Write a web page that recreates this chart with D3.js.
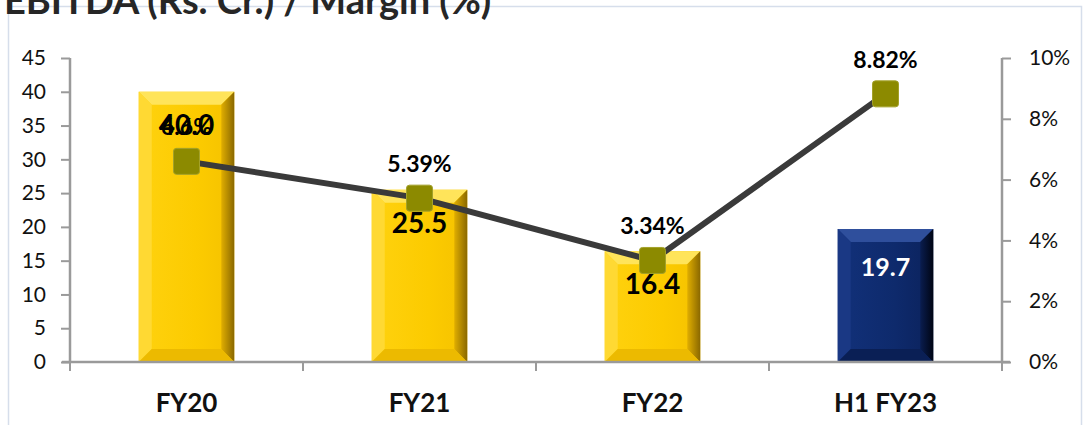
<!DOCTYPE html>
<html>
<head>
<meta charset="utf-8">
<script src="https://cdn.jsdelivr.net/npm/d3@7"></script>
<style>
  body { margin: 0; background: #fff; }
  svg { display: block; font-family: Lato, "Open Sans", sans-serif; }
</style>
</head>
<body>
<svg id="chart" width="1085" height="425"></svg>
<script>
// data
const categories = ["FY20", "FY21", "FY22", "H1 FY23"];
const ebitda = [40.0, 25.5, 16.4, 19.7];
const ebitdaLabels = ["40.0", "25.5", "16.4", "19.7"];
const margin = [6.6, 5.39, 3.34, 8.82];
const marginLabels = ["6.6%", "5.39%", "3.34%", "8.82%"];
const leftTicks = [0, 5, 10, 15, 20, 25, 30, 35, 40, 45];
const rightTicks = [0, 2, 4, 6, 8, 10];

const svg = d3.select("#chart");
const plotL = 70, plotR = 1002, plotT = 58, plotB = 362;

// outer frame
svg.append("rect").attr("x", 8.5).attr("y", 6.5).attr("width", 1073).attr("height", 430)
  .attr("fill", "none").attr("stroke", "#d6deeb").attr("stroke-width", 1.5);

// title (cut at the top like the original)
svg.append("text").attr("x", 4).attr("y", 14)
  .attr("font-size", 38).attr("font-weight", 700).attr("fill", "#262626")
  .text("EBITDA (Rs. Cr.) / Margin (%)");

const x = d3.scaleBand().domain(categories).range([plotL, plotR])
  .paddingInner(0.59).paddingOuter(0.295);
const y = d3.scaleLinear().domain([0, 45]).range([plotB, plotT]);
const y2 = d3.scaleLinear().domain([0, 10]).range([plotB, plotT]);
const cx = (c) => x(c) + x.bandwidth() / 2;

// gradients
const defs = svg.append("defs");
function grad(id, stops) {
  const g = defs.append("linearGradient").attr("id", id)
    .attr("x1", 0).attr("y1", 0).attr("x2", 1).attr("y2", 0);
  stops.forEach(s => g.append("stop").attr("offset", s[0]).attr("stop-color", s[1]));
}
grad("goldFace", [[0, "#ffd20f"], [0.6, "#fccb00"], [1, "#f5c200"]]);
grad("goldRight", [[0, "#e0ae00"], [1, "#8a6800"]]);
grad("navyFace", [[0, "#12317a"], [0.6, "#0e2a6c"], [1, "#0b225c"]]);
grad("navyRight", [[0, "#0a1d4f"], [1, "#000514"]]);

const palette = {
  gold: { face: "url(#goldFace)", top: "#ffe45a", left: "#ffd933", right: "url(#goldRight)", bottom: "#ecba00" },
  navy: { face: "url(#navyFace)", top: "#2f4f9c", left: "#1a3884", right: "url(#navyRight)", bottom: "#0a1f55" }
};

// bars with a bevel look
const bev = 13;
const bars = svg.append("g").selectAll("g").data(categories).join("g");
bars.each(function (c, i) {
  const g = d3.select(this);
  const p = i === 3 ? palette.navy : palette.gold;
  const x0 = x(c), x1 = x(c) + x.bandwidth(), y0 = y(ebitda[i]), y1 = y(0);
  const poly = (pts, fill) => g.append("polygon").attr("points", pts.map(d => d.join(",")).join(" ")).attr("fill", fill);
  poly([[x0, y0], [x1, y0], [x1, y1], [x0, y1]], p.face);
  poly([[x0, y0], [x1, y0], [x1 - bev, y0 + bev], [x0 + bev, y0 + bev]], p.top);
  poly([[x0, y0], [x0 + bev, y0 + bev], [x0 + bev, y1 - bev], [x0, y1]], p.left);
  poly([[x1, y0], [x1, y1], [x1 - bev, y1 - bev], [x1 - bev, y0 + bev]], p.right);
  poly([[x0, y1], [x0 + bev, y1 - bev], [x1 - bev, y1 - bev], [x1, y1]], p.bottom);
});

// axes
const axisColor = "#9a9a9a";
const gl = svg.append("g").attr("transform", `translate(${plotL},0)`)
  .call(d3.axisLeft(y).tickValues(leftTicks).tickSize(9).tickPadding(15));
const gr = svg.append("g").attr("transform", `translate(${plotR},0)`)
  .call(d3.axisRight(y2).tickValues(rightTicks).tickSize(9).tickPadding(18).tickFormat(d => d + "%"));
const gx = svg.append("g").attr("transform", `translate(0,${plotB})`)
  .call(d3.axisBottom(x).tickSize(0).tickPadding(32));
[gl, gr, gx].forEach(g => {
  g.select(".domain").attr("stroke", axisColor).attr("stroke-width", 2.5);
  g.selectAll(".tick line").attr("stroke", axisColor).attr("stroke-width", 2);
  g.selectAll("text").attr("fill", "#111").attr("font-family", "Lato, sans-serif");
});
gl.select(".domain").attr("d", `M0,${plotT}V${plotB}`);
gr.select(".domain").attr("d", `M0,${plotT}V${plotB}`);
gl.selectAll("text").attr("font-size", 21);
gr.selectAll("text").attr("font-size", 21);
gx.selectAll("text").attr("font-size", 26).attr("font-weight", 700).attr("dy", "0.71em");
gx.select(".domain").attr("d", `M${plotL - 8},0H${plotR + 8}`);
// category separator ticks
const sep = [plotL].concat(categories.map(c => x(c) + x.bandwidth() + x.step() * 0.295));
gx.selectAll(".sep").data(sep).join("line").attr("class", "sep")
  .attr("x1", d => d).attr("x2", d => d).attr("y1", 0).attr("y2", 9)
  .attr("stroke", axisColor).attr("stroke-width", 2);

// bar value labels
svg.append("g").selectAll("text").data(categories).join("text")
  .attr("x", cx).attr("y", (c, i) => y(ebitda[i]) + (i === 3 ? 47 : 43))
  .attr("text-anchor", "middle").attr("font-weight", 700)
  .attr("font-size", (c, i) => i === 3 ? 25 : 28)
  .attr("fill", (c, i) => i === 3 ? "#fff" : "#000")
  .text((c, i) => ebitdaLabels[i]);

// margin line
const line = d3.line().x(d => cx(d)).y((d, i) => y2(margin[i]));
svg.append("path").datum(categories).attr("d", line)
  .attr("fill", "none").attr("stroke", "#3a3a3a").attr("stroke-width", 6);
svg.append("g").selectAll("rect").data(categories).join("rect")
  .attr("x", c => cx(c) - 13).attr("y", (c, i) => y2(margin[i]) - 13)
  .attr("width", 26).attr("height", 26).attr("rx", 3)
  .attr("fill", "#8c8a00").attr("stroke", "#a3a12a").attr("stroke-width", 1);
svg.append("g").selectAll("text").data(categories).join("text")
  .attr("x", cx).attr("y", (c, i) => y2(margin[i]) - 26)
  .attr("text-anchor", "middle").attr("font-weight", 700).attr("font-size", 23)
  .attr("fill", "#000")
  .text((c, i) => marginLabels[i]);
</script>
</body>
</html>
